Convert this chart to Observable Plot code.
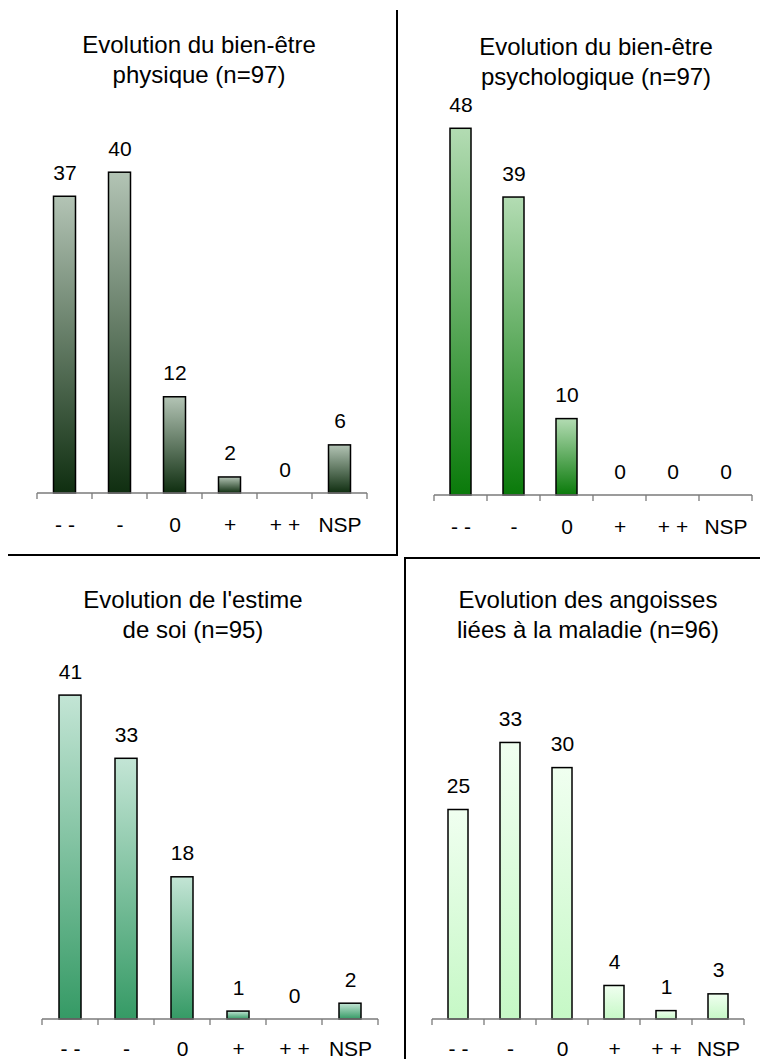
<!DOCTYPE html>
<html>
<head>
<meta charset="utf-8">
<script src="https://cdn.jsdelivr.net/npm/d3@7"></script>
<script src="https://cdn.jsdelivr.net/npm/@observablehq/plot@0.6"></script>
<style>
  body { margin: 0; background: #fff; }
  #wrap { position: relative; width: 760px; height: 1059px; overflow: hidden;
          font-family: "Liberation Sans", Arial, sans-serif; color: #000; background: #fff; }
  .panel { position: absolute; }
  .title { position: absolute; width: 400px; text-align: center; font-size: 24px;
           line-height: 30px; white-space: nowrap; }
  .line { position: absolute; background: #000; }
</style>
</head>
<body>
<div id="wrap"></div>
<script>
// ---- data ----
const categories = ["- -", "-", "0", "+", "+ +", "NSP"];
const physique = [37, 40, 12, 2, 0, 6];
const psychologique = [48, 39, 10, 0, 0, 0];
const estime = [41, 33, 18, 1, 0, 2];
const angoisses = [25, 33, 30, 4, 1, 3];
const titles = [
  ["Evolution du bien-être", "physique (n=97)"],
  ["Evolution du bien-être", "psychologique (n=97)"],
  ["Evolution de l'estime", "de soi (n=95)"],
  ["Evolution des angoisses", "liées à la maladie (n=96)"]
];
const gradientTop = ["#b3c4b5", "#b3dcb3", "#c3e5d5", "#f0fff0"];
const gradientBottom = ["#0f2e10", "#0a7a0a", "#359a65", "#c6f8c6"];

// ---- layout ----
const panels = [
  {values: physique,      left: 0,   top: 0,   width: 397, height: 555, ml: 34, mr: 28, mt: 92,  mb: 62, inset: 16.5, cx: 199, tTop: 30, pad: 24},
  {values: psychologique, left: 400, top: 0,   width: 360, height: 558, ml: 33, mr: 8,  mt: 113, mb: 63, inset: 16,   cx: 196, tTop: 32, pad: 24},
  {values: estime,        left: 0,   top: 555, width: 405, height: 504, ml: 41, mr: 27, mt: 69,  mb: 40, inset: 17,   cx: 193, tTop: 30, pad: 22},
  {values: angoisses,     left: 405, top: 558, width: 355, height: 501, ml: 26, mr: 15, mt: 42,  mb: 40, inset: 16,   cx: 183, tTop: 27, pad: 22}
];

const wrap = document.getElementById("wrap");

panels.forEach((p, i) => {
  const data = categories.map((c, k) => ({cat: c, value: p.values[k]}));
  const gid = "grad" + i;

  const defs = () => {
    const d = d3.create("svg:defs");
    const lg = d.append("linearGradient").attr("id", gid)
      .attr("x1", 0).attr("y1", 0).attr("x2", 0).attr("y2", 1);
    lg.append("stop").attr("offset", "0%").attr("stop-color", gradientTop[i]);
    lg.append("stop").attr("offset", "100%").attr("stop-color", gradientBottom[i]);
    return d.node();
  };

  const axisLine = (index, scales, values, dims) => {
    const x = scales.x, y = scales.y;
    const y0 = y(0);
    const bw = x.bandwidth ? x.bandwidth()
      : (dims.width - dims.marginLeft - dims.marginRight) / categories.length;
    const xs = categories.map(c => x(c));
    xs.push(x(categories[categories.length - 1]) + bw);
    const g = d3.create("svg:g").attr("stroke", "#7a7a7a").attr("stroke-width", 1.3);
    g.append("line").attr("x1", xs[0]).attr("x2", xs[xs.length - 1]).attr("y1", y0).attr("y2", y0);
    xs.forEach(v => g.append("line").attr("x1", v).attr("x2", v).attr("y1", y0).attr("y2", y0 + 6));
    return g.node();
  };

  const chart = Plot.plot({
    width: p.width,
    height: p.height,
    marginLeft: p.ml,
    marginRight: p.mr,
    marginTop: p.mt,
    marginBottom: p.mb,
    style: {fontFamily: "'Liberation Sans', Arial, sans-serif", fontSize: "21px", color: "#000", background: "transparent", overflow: "visible"},
    x: {type: "band", domain: categories, padding: 0},
    y: {domain: [0, 50], axis: null},
    marks: [
      defs,
      Plot.barY(data, {
        filter: d => d.value > 0,
        x: "cat", y: "value",
        fill: `url(#${gid})`,
        stroke: "#000", strokeWidth: 1.5,
        insetLeft: p.inset, insetRight: p.inset
      }),
      axisLine,
      Plot.text(data, {
        x: "cat", y: "value", text: d => String(d.value),
        dy: -17, lineAnchor: "bottom", fontSize: 21, fill: "#000"
      }),
      Plot.axisX({tickSize: 0, tickPadding: p.pad, label: null, fontSize: 21, fill: "#000"})
    ]
  });
  chart.classList.add("panel");
  chart.style.left = p.left + "px";
  chart.style.top = p.top + "px";
  wrap.appendChild(chart);

  const t = document.createElement("div");
  t.className = "title";
  t.style.left = (p.left + p.cx - 200) + "px";
  t.style.top = (p.top + p.tTop) + "px";
  t.innerHTML = titles[i][0] + "<br>" + titles[i][1];
  wrap.appendChild(t);
});

// divider lines
function line(l, t, w, h) {
  const d = document.createElement("div");
  d.className = "line";
  d.style.left = l + "px"; d.style.top = t + "px";
  d.style.width = w + "px"; d.style.height = h + "px";
  wrap.appendChild(d);
}
line(396, 10, 2, 546);
line(8, 554, 390, 2);
line(404, 557, 356, 2);
line(404, 557, 2, 502);
</script>
</body>
</html>
